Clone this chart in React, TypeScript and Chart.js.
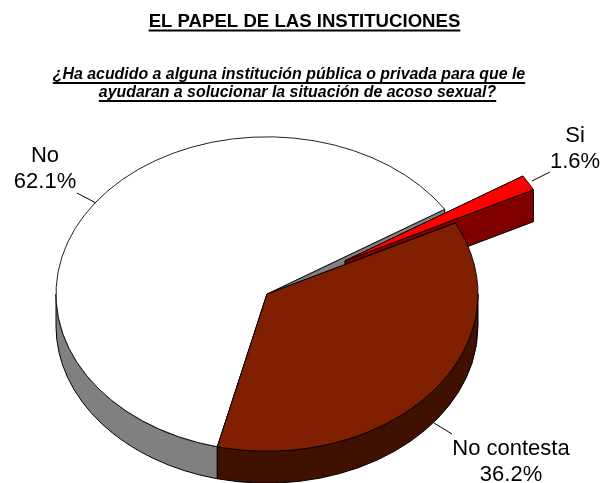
import React, { useEffect, useRef } from "react";
import { Chart, registerables } from "chart.js";

Chart.register(...registerables);

const categories = ["No", "Si", "No contesta"];
const values = [62.1, 1.6, 36.2];
const faceColors = ["#FFFFFF", "#FF0000", "#802000"];
const wallColors = ["#808080", "#800000", "#401000"];
const explode = [0, 90, 0];
const titleText = "EL PAPEL DE LAS INSTITUCIONES";
const subtitleLines = [
  "¿Ha acudido a alguna institución pública o privada para que le",
  "ayudaran a solucionar la situación de acoso sexual?",
];
const labelAnchors = [
  [45, 162],
  [575, 142],
  [511, 455],
];
const leaders = [
  [[77, 193], [96, 203]],
  [[532, 181], [550, 172]],
  [[434, 423], [452, 434]],
];

const CX = 267;
const CY = 294;
const SQUASH = 0.745;
const DEPTH = 32;
const FONT = '"Liberation Sans", Arial, sans-serif';

const pie3d = {
  id: "pie3d",
  beforeDatasetsDraw(chart: any) {
    const ctx = chart.ctx;
    const meta = chart.getDatasetMeta(0);
    meta.data.forEach((el: any, i: number) => {
      const off = explode[i];
      const mid = (el.startAngle + el.endAngle) / 2;
      const R = el.outerRadius;
      const X = CX + Math.cos(mid) * off;
      const Y = CY + Math.sin(mid) * off * SQUASH;
      const pt = (a: number) => [X + R * Math.cos(a), Y + R * Math.sin(a) * SQUASH];
      ctx.save();
      ctx.fillStyle = wallColors[i];
      ctx.strokeStyle = "#000";
      ctx.lineWidth = 1;
      ctx.lineJoin = "round";
      [el.startAngle, el.endAngle].forEach((a: number) => {
        const p = pt(a);
        ctx.beginPath();
        ctx.moveTo(X, Y);
        ctx.lineTo(p[0], p[1]);
        ctx.lineTo(p[0], p[1] + DEPTH);
        ctx.lineTo(X, Y + DEPTH);
        ctx.closePath();
        ctx.fill();
        ctx.stroke();
      });
      // outer rim: the front half of the ellipse, in any full turn the arc covers
      for (const turn of [0, 2 * Math.PI, -2 * Math.PI]) {
        const a0 = Math.max(el.startAngle, turn);
        const a1 = Math.min(el.endAngle, turn + Math.PI);
        if (a1 <= a0) continue;
        ctx.beginPath();
        ctx.ellipse(X, Y, R, R * SQUASH, 0, a0, a1);
        ctx.ellipse(X, Y + DEPTH, R, R * SQUASH, 0, a1, a0, true);
        ctx.closePath();
        ctx.fill();
        ctx.stroke();
      }
      ctx.restore();

      ctx.save();
      ctx.translate(X, Y);
      ctx.scale(1, SQUASH);
      ctx.translate(-el.x, -el.y);
      el.draw(ctx);
      ctx.restore();
    });
    return false;
  },
  afterDraw(chart: any) {
    const ctx = chart.ctx;
    ctx.save();
    ctx.fillStyle = "#000";
    ctx.strokeStyle = "#000";
    ctx.textAlign = "center";
    ctx.textBaseline = "alphabetic";

    const underlined = (t: string, x: number, y: number, gap: number, lw: number) => {
      ctx.fillText(t, x, y);
      const w = ctx.measureText(t).width;
      ctx.lineWidth = lw;
      ctx.beginPath();
      ctx.moveTo(x - w / 2, y + gap);
      ctx.lineTo(x + w / 2, y + gap);
      ctx.stroke();
    };

    ctx.font = `bold 18.6px ${FONT}`;
    underlined(titleText, 304.5, 27, 3.5, 2);
    ctx.font = `italic bold 15.9px ${FONT}`;
    underlined(subtitleLines[0], 289, 79, 4, 2);
    underlined(subtitleLines[1], 297.5, 97, 4, 2);

    ctx.font = `22px ${FONT}`;
    categories.forEach((c, i) => {
      const [x, y] = labelAnchors[i];
      ctx.fillText(c, x, y);
      ctx.fillText(`${values[i].toFixed(1)}%`, x, y + 26);
    });
    ctx.lineWidth = 1;
    leaders.forEach(([a, b]) => {
      ctx.beginPath();
      ctx.moveTo(a[0], a[1]);
      ctx.lineTo(b[0], b[1]);
      ctx.stroke();
    });
    ctx.restore();
  },
};

export default function App() {
  const ref = useRef<HTMLCanvasElement>(null);
  useEffect(() => {
    document.body.style.margin = "0";
    const chart = new Chart(ref.current as HTMLCanvasElement, {
      type: "pie",
      data: {
        labels: categories,
        datasets: [
          {
            data: values,
            backgroundColor: faceColors,
            borderColor: "#000000",
            borderWidth: 1,
            radius: 211,
          } as any,
        ],
      },
      options: {
        responsive: false,
        animation: false,
        rotation: 193.6,
        plugins: { legend: { display: false }, tooltip: { enabled: false } },
      },
      plugins: [pie3d as any],
    });
    return () => chart.destroy();
  }, []);
  return <canvas ref={ref} width={605} height={483} style={{ display: "block" }} />;
}
